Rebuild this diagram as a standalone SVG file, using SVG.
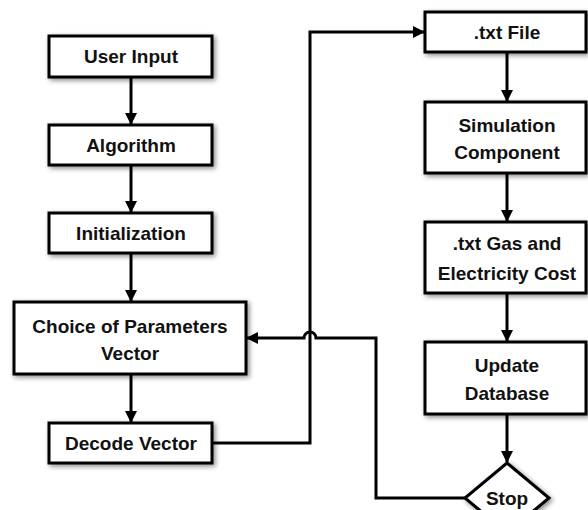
<svg xmlns="http://www.w3.org/2000/svg" width="588" height="510" viewBox="0 0 588 510">
<style>
.box{fill:#fff;stroke:#000;stroke-width:3;filter:url(#sh)}
.t{font-family:"Liberation Sans",Arial,sans-serif;font-weight:bold;font-size:19px;fill:#111;text-anchor:middle}
.c{fill:none;stroke:#000;stroke-width:3}
</style>
<defs>
<filter id="sh" x="-20%" y="-30%" width="140%" height="160%">
<feDropShadow dx="2" dy="2" stdDeviation="2.5" flood-color="#000" flood-opacity="0.45"/>
</filter>
<marker id="ah" markerWidth="12" markerHeight="12" refX="11" refY="6" orient="auto" markerUnits="userSpaceOnUse">
<path d="M0,0 L12,6 L0,12 Z" fill="#000"/>
</marker>
</defs>
<rect width="588" height="510" fill="#fff"/>
<g id="connectors">
<path class="c" d="M131,77 V124" marker-end="url(#ah)"/>
<path class="c" d="M131,165 V212" marker-end="url(#ah)"/>
<path class="c" d="M131,253 V301" marker-end="url(#ah)"/>
<path class="c" d="M131,374 V422" marker-end="url(#ah)"/>
<path class="c" d="M212,443 H310 V32 H424" marker-end="url(#ah)"/>
<path class="c" d="M507,52 V101" marker-end="url(#ah)"/>
<path class="c" d="M507,173 V221" marker-end="url(#ah)"/>
<path class="c" d="M507,293 V341" marker-end="url(#ah)"/>
<path class="c" d="M507,414 V462" marker-end="url(#ah)"/>
<path class="c" d="M465,498 H376 V338 H316 A6,6 0 0 0 304,338 H247" marker-end="url(#ah)"/>
</g>
<g id="user-input"><rect class="box" x="49" y="36" width="163" height="41"/><text class="t" x="131" y="63">User Input</text></g>
<g id="algorithm"><rect class="box" x="49" y="125" width="163" height="40"/><text class="t" x="131" y="152">Algorithm</text></g>
<g id="initialization"><rect class="box" x="49" y="213" width="163" height="40"/><text class="t" x="131" y="240">Initialization</text></g>
<g id="choice"><rect class="box" x="14" y="302" width="232" height="72"/><text class="t" x="130" y="333">Choice of Parameters</text><text class="t" x="130" y="360">Vector</text></g>
<g id="decode"><rect class="box" x="49" y="423" width="163" height="40"/><text class="t" x="131" y="450">Decode Vector</text></g>
<g id="txt-file"><rect class="box" x="425" y="12" width="161" height="40"/><text class="t" x="507" y="39">.txt File</text></g>
<g id="simulation"><rect class="box" x="425" y="102" width="161" height="71"/><text class="t" x="507" y="132">Simulation</text><text class="t" x="507" y="159">Component</text></g>
<g id="gas"><rect class="box" x="425" y="222" width="161" height="71"/><text class="t" x="507" y="250">.txt Gas and</text><text class="t" x="507" y="280">Electricity Cost</text></g>
<g id="update"><rect class="box" x="425" y="342" width="161" height="72"/><text class="t" x="507" y="372">Update</text><text class="t" x="507" y="400">Database</text></g>
<g id="stop"><path class="box" d="M507,463 L549,498 L507,533 L465,498 Z"/><text class="t" x="507" y="505">Stop</text></g>
</svg>
